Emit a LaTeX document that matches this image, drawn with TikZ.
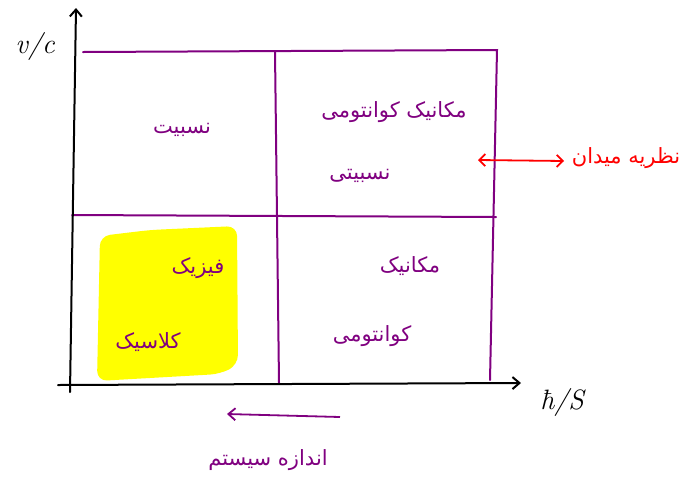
\documentclass[tikz,border=0pt]{standalone}
\usepackage{fontspec}
\newfontfamily\arabicfont[Script=Arabic]{DejaVu Sans}
\TeXXeTstate=1
\usetikzlibrary{arrows.meta}
\definecolor{pur}{RGB}{128,0,128}
\definecolor{yel}{RGB}{255,255,0}
\definecolor{rd}{RGB}{255,0,0}
\begin{document}
\begin{tikzpicture}[x=1pt,y=-1pt,
  axis/.style={line width=2pt,black,line cap=round},
  grid/.style={line width=2pt,pur,line cap=round},
  fa/.style={font=\arabicfont\fontsize{21}{25}\selectfont,pur,inner sep=0pt},
  lab/.style={font=\fontsize{28}{32}\selectfont\itshape,inner sep=0pt},
  tip/.style={-{Straight Barb[length=7pt,width=12pt]}}]
\useasboundingbox (0,0) rectangle (698,491);
\fill[white] (0,0) rectangle (698,491);
% coordinates
\coordinate (yb) at (70,392);
\coordinate (yt) at (76,8);
\coordinate (xl) at (58,385);
\coordinate (xr) at (521,383);
\coordinate (tl) at (83,52);
\coordinate (tr) at (497,50);
\coordinate (br) at (490,380);
\coordinate (mt) at (275,52);
\coordinate (mb) at (279,383);
\coordinate (ml) at (72,215);
\coordinate (mr) at (496,217);
% yellow
\fill[yel,rounded corners=10pt] (100,236) -- (150,230) -- (237,226) -- (238,365) -- (220,374) -- (97,381) -- cycle;
% grid
\draw[grid] (tl) -- (tr) -- (br);
\draw[grid] (mt) -- (mb);
\draw[grid] (ml) -- (mr);
% axes
\draw[axis,tip] (yb) -- (yt);
\draw[axis,tip] (xl) -- (xr);
\node[lab] (vc) at (35,46) {v/c};
\node[lab] (hs) at (562,402) {ħ/S};
% texts
\node[fa] (rel) at (182,130) {\beginR نسبیت\endR};
\node[fa] (rqm) at (394,112) {\beginR مکانیک کوانتومی\endR};
\node[fa] (rqm2) at (360,176) {\beginR نسبیتی\endR};
\node[fa] (cl1) at (198,268) {\beginR فیزیک\endR};
\node[fa] (cl2) at (148,342) {\beginR کلاسیک\endR};
\node[fa] (qm1) at (410,266) {\beginR مکانیک\endR};
\node[fa] (qm2) at (372,336) {\beginR کوانتومی\endR};
% field theory
\coordinate (fl) at (478,160);
\coordinate (fr) at (564,161);
\draw[line width=1.8pt,rd,{Straight Barb[length=6pt,width=12pt]}-{Straight Barb[length=6pt,width=12pt]}] (fl) -- (fr);
\node[fa,rd] (ft) at (626,158) {\beginR نظریه میدان\endR};
% system size
\coordinate (sr) at (340,417);
\coordinate (sl) at (227,414);
\draw[line width=1.8pt,pur,tip] (sr) -- (sl);
\node[fa] (ss) at (268,460) {\beginR اندازه سیستم\endR};
\end{tikzpicture}
\end{document}
